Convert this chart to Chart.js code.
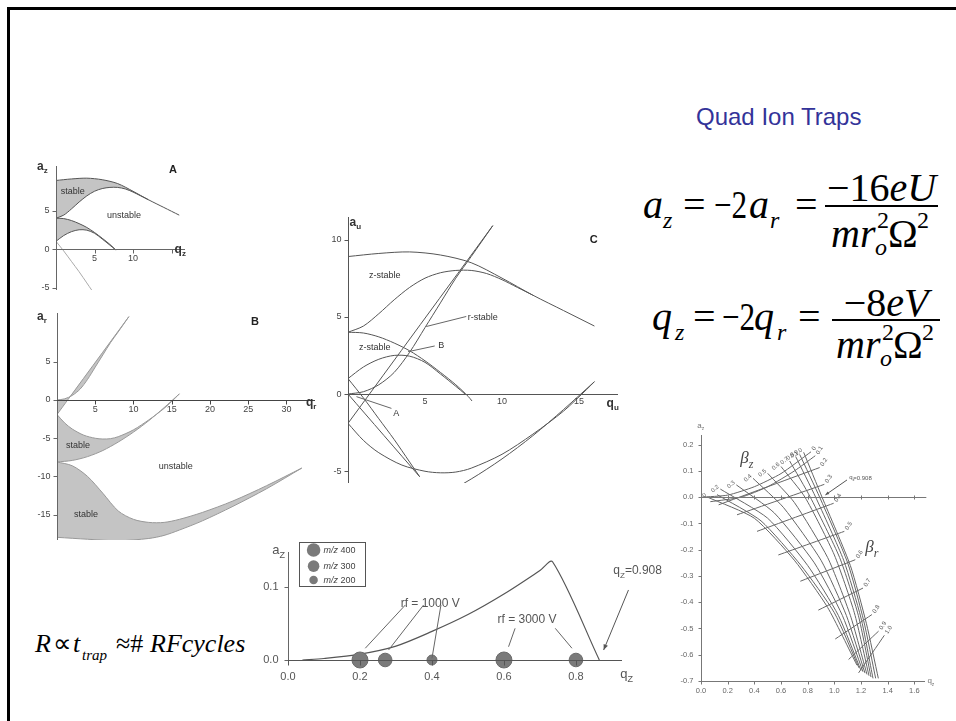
<!DOCTYPE html>
<html>
<head>
<meta charset="utf-8">
<title>Quad Ion Traps</title>
<script src="https://cdn.jsdelivr.net/npm/chart.js@4.4.1/dist/chart.umd.min.js"></script>
<style>
  html, body { margin: 0; padding: 0; background: #fff; }
  body { position: relative; width: 956px; height: 721px; overflow: hidden; font-family: "Liberation Sans", Arial, sans-serif; }
  #frame { position: absolute; left: 7px; top: 7px; width: 960px; height: 730px; border-left: 3px solid #000; border-top: 3px solid #000; }
  canvas { position: absolute; }
  .tx { position: absolute; white-space: nowrap; line-height: 1; color: #000; }
  .serif { font-family: "Liberation Serif", "Times New Roman", serif; }
  .it { font-style: italic; }
  .nar { transform: scaleX(0.78); transform-origin: 0 0; }
  .bar { position: absolute; height: 2px; background: #000; }
</style>
</head>
<body>
<div id="frame"></div>

<div class="tx" style="left:696px;top:105px;font-size:24px;color:#333399;">Quad Ion Traps</div>

<!-- a_z = -2a_r = -16eU / m r_o^2 Omega^2 -->
<div class="tx serif it" style="left:643px;top:184.5px;font-size:40px;">a</div>
<div class="tx serif it" style="left:663px;top:208px;font-size:24px;">z</div>
<div class="tx serif" style="left:683px;top:184.5px;font-size:40px;">=</div>
<div class="tx serif nar" style="left:714px;top:184.5px;font-size:40px;">&minus;2</div>
<div class="tx serif it" style="left:749px;top:184.5px;font-size:40px;">a</div>
<div class="tx serif it" style="left:770px;top:208px;font-size:24px;">r</div>
<div class="tx serif" style="left:795px;top:184.5px;font-size:40px;">=</div>
<div class="tx serif" style="left:825px;top:167.5px;width:113px;text-align:center;font-size:40px;">&minus;16<i>eU</i></div>
<div class="bar" style="left:825px;top:205px;width:113px;"></div>
<div class="tx serif it" style="left:831px;top:213.5px;font-size:40px;">mr</div>
<div class="tx serif" style="left:877px;top:208px;font-size:24px;">2</div>
<div class="tx serif it" style="left:875px;top:235px;font-size:24px;">o</div>
<div class="tx serif" style="left:888px;top:213.5px;font-size:40px;">&Omega;</div>
<div class="tx serif" style="left:917px;top:208px;font-size:24px;">2</div>

<!-- q_z = -2q_r = -8eV / m r_o^2 Omega^2 -->
<div class="tx serif it" style="left:652px;top:296.5px;font-size:40px;">q</div>
<div class="tx serif it" style="left:675px;top:320px;font-size:24px;">z</div>
<div class="tx serif" style="left:693px;top:296.5px;font-size:40px;">=</div>
<div class="tx serif nar" style="left:722px;top:296.5px;font-size:40px;">&minus;2</div>
<div class="tx serif it" style="left:754px;top:296.5px;font-size:40px;">q</div>
<div class="tx serif it" style="left:777px;top:320px;font-size:24px;">r</div>
<div class="tx serif" style="left:798px;top:296.5px;font-size:40px;">=</div>
<div class="tx serif" style="left:832px;top:282.5px;width:108px;text-align:center;font-size:40px;">&minus;8<i>eV</i></div>
<div class="bar" style="left:832px;top:319px;width:108px;"></div>
<div class="tx serif it" style="left:836px;top:324.5px;font-size:40px;">mr</div>
<div class="tx serif" style="left:882px;top:320px;font-size:24px;">2</div>
<div class="tx serif it" style="left:880px;top:346px;font-size:24px;">o</div>
<div class="tx serif" style="left:893px;top:324.5px;font-size:40px;">&Omega;</div>
<div class="tx serif" style="left:922px;top:320px;font-size:24px;">2</div>

<!-- R ~ t_trap ~ # RF cycles -->
<div class="tx serif it" style="left:35px;top:631px;font-size:26px;">R</div>
<div class="tx serif" style="left:53px;top:631px;font-size:26px;">&prop;</div>
<div class="tx serif it" style="left:73px;top:631px;font-size:26px;">t</div>
<div class="tx serif it" style="left:82px;top:648px;font-size:15px;">trap</div>
<div class="tx serif" style="left:116px;top:631px;font-size:26px;">&asymp;#</div>
<div class="tx serif it" style="left:150px;top:631px;font-size:26px;">RFcycles</div>

<script>
// z-direction stability boundaries (a_z vs q_z), panels A and C
const zTopQ = [0, 2, 4, 6, 8, 10, 12, 14, 16];
const zTopA = [8.9, 9.1, 9.2, 9.0, 8.5, 7.5, 6.4, 5.4, 4.4];
const zMidQ = [0, 1, 2, 3, 4, 5, 6, 7, 8, 9, 10, 11, 12];
const zMidA = [4.0, 4.4, 5.2, 6.1, 6.9, 7.5, 7.85, 8.0, 8.0, 7.8, 7.4, 6.9, 6.4];
const zLowTopQ = [0, 1, 2, 3, 4, 5, 6, 7, 7.8, 8.05];
const zLowTopA = [4.0, 3.95, 3.7, 3.3, 2.8, 2.15, 1.4, 0.6, -0.15, -0.45];
const zLowBotQ = [0, 1, 2, 3, 4, 5, 6, 7, 7.6];
const zLowBotA = [1.0, 1.75, 2.25, 2.5, 2.45, 2.05, 1.3, 0.5, 0];
const zEdgeQ = [0, 1, 2, 3, 4, 4.65];
const zEdgeA = [1.0, -0.25, -1.6, -2.95, -4.4, -5.35];
const zEdge2Q = [0, 4.65];
const zEdge2A = [0, -5.35];

// r-direction stability boundaries (a_r vs q_r), panels B and C
const r1LeftQ = [0, 9.4];
const r1LeftA = [-1.9, 10.9];
const r1RightQ = [0, 1, 2, 3, 4, 5, 6, 7, 8, 9.4];
const r1RightA = [0, 0.15, 0.6, 1.4, 2.7, 4.3, 5.9, 7.5, 8.9, 10.9];
const r2TopQ = [0, 1, 2, 3.5, 5, 6, 7, 8, 10, 12, 14, 15.5, 16];
const r2TopA = [-1.9, -3.0, -3.8, -4.6, -5.0, -5.1, -5.05, -4.8, -3.9, -2.6, -1.1, 0.3, 0.8];
const r2BotQ = [0, 2, 4, 6, 8, 10, 12, 14, 16];
const r2BotA = [-8.1, -7.9, -7.4, -6.6, -5.5, -4.2, -2.7, -1.0, 0.8];
const r3TopQ = [0, 2, 4, 6, 8, 10, 12, 14, 16, 19, 23, 27.4, 32];
const r3TopA = [-8.1, -8.6, -10.0, -12.2, -14.5, -15.6, -16.0, -16.0, -15.6, -14.7, -13.2, -11.2, -8.9];
const r3BotQ = [0, 4, 8, 12, 14, 16, 19, 23, 27.4, 32];
const r3BotA = [-17.95, -18.2, -18.4, -18.1, -17.7, -17.0, -15.8, -13.9, -11.6, -8.9];

// resonance scan panel
const scanQ = [0.04, 0.1, 0.2, 0.3, 0.4, 0.5, 0.6, 0.7, 0.735, 0.865];
const scanA = [0, 0.002, 0.008, 0.019, 0.039, 0.062, 0.09, 0.122, 0.134, 0];
const ionQ = [0.2, 0.27, 0.4, 0.6, 0.8];
const ionMz = [400, 300, 200, 400, 300];
const legendMz = [400, 300, 200];

// iso-beta lines of the first stability region
const betaLabels = ['0', '0.1', '0.2', '0.3', '0.4', '0.5', '0.6', '0.7', '0.8', '0.9', '1.0'];
const betaZq = [
  [0.05, 0.4, 0.7, 0.95, 1.17], [0.12, 0.45, 0.75, 1.0, 1.185], [0.145, 0.5, 0.8, 1.03, 1.2],
  [0.265, 0.55, 0.85, 1.06, 1.215], [0.39, 0.62, 0.9, 1.09, 1.23], [0.5, 0.7, 0.95, 1.12, 1.245],
  [0.6, 0.78, 1.0, 1.15, 1.26], [0.665, 0.82, 1.04, 1.18, 1.275], [0.71, 0.86, 1.07, 1.2, 1.29],
  [0.74, 0.89, 1.1, 1.22, 1.31], [0.77, 0.908, 1.12, 1.24, 1.33]
];
const betaZa = [
  [0, -0.08, -0.24, -0.42, -0.64], [0.01, -0.09, -0.26, -0.44, -0.65], [0.031, -0.08, -0.26, -0.45, -0.66],
  [0.047, -0.06, -0.25, -0.45, -0.665], [0.072, -0.04, -0.24, -0.45, -0.67], [0.091, -0.02, -0.23, -0.45, -0.675],
  [0.117, 0, -0.22, -0.44, -0.68], [0.138, 0, -0.23, -0.45, -0.685], [0.155, 0, -0.24, -0.46, -0.69],
  [0.163, 0, -0.25, -0.47, -0.69], [0.171, 0, -0.26, -0.48, -0.69]
];
const betaRq = [
  [0, 0.2, 0.4, 0.6, 0.825], [0.07, 0.3, 0.5, 0.7, 0.857], [0.132, 0.89], [0.27, 0.925], [0.42, 0.995],
  [0.58, 1.075], [0.745, 1.157], [0.88, 1.215], [1.007, 1.282], [1.107, 1.332], [1.182, 1.375]
];
const betaRa = [
  [0, 0.008, 0.04, 0.09, 0.173], [-0.017, 0.0, 0.04, 0.1, 0.158], [-0.029, 0.113], [-0.067, 0.049], [-0.13, -0.023],
  [-0.22, -0.13], [-0.32, -0.238], [-0.43, -0.346], [-0.54, -0.447], [-0.618, -0.51], [-0.669, -0.526]
];

const SANS = '"Liberation Sans", Arial, sans-serif';
const SERIF = '"Liberation Serif", "Times New Roman", serif';
const CURVE = '#555';
const SHADE = '#c4c4c4';

function pts(qs, as) { return qs.map((q, i) => ({ x: q, y: as[i] })); }
function loop(q1, a1, q2, a2) {
  return pts(q1.concat(q2.slice().reverse()), a1.concat(a2.slice().reverse()));
}
function curve(q, a, color, width, tension) {
  return { data: pts(q, a), showLine: true, fill: false, borderColor: color || CURVE,
           borderWidth: width || 1, pointRadius: 0, tension: tension === undefined ? 0.3 : tension };
}
function area(q1, a1, q2, a2) {
  return { data: loop(q1, a1, q2, a2), showLine: true, fill: 'shape', backgroundColor: SHADE,
           borderColor: 'rgba(0,0,0,0)', borderWidth: 0, pointRadius: 0, tension: 0.3 };
}

function P(c, q, a) { return [c.scales.x.getPixelForValue(q), c.scales.y.getPixelForValue(a)]; }
function crisp(v) { return Math.round(v) + 0.5; }

function hAxis(ctx, c, o) {
  const y = crisp(P(c, 0, o.at)[1]);
  ctx.strokeStyle = o.color; ctx.lineWidth = 1;
  ctx.beginPath();
  ctx.moveTo(P(c, o.from, 0)[0], y); ctx.lineTo(P(c, o.to, 0)[0], y);
  o.ticks.forEach(v => { const x = crisp(P(c, v, 0)[0]); ctx.moveTo(x, y - (o.up || 0)); ctx.lineTo(x, y + (o.down || 0)); });
  ctx.stroke();
  if (!o.labels) return;
  ctx.fillStyle = o.text || o.color; ctx.font = o.font; ctx.textAlign = 'center'; ctx.textBaseline = 'top';
  o.ticks.forEach((v, i) => { if (o.labels[i]) ctx.fillText(o.labels[i], P(c, v, 0)[0], y + o.gap); });
}
function vAxis(ctx, c, o) {
  const x = crisp(P(c, o.at, 0)[0]);
  ctx.strokeStyle = o.color; ctx.lineWidth = 1;
  ctx.beginPath();
  ctx.moveTo(x, P(c, 0, o.from)[1]); ctx.lineTo(x, P(c, 0, o.to)[1]);
  o.ticks.forEach(v => { const y = crisp(P(c, 0, v)[1]); ctx.moveTo(x - o.len, y); ctx.lineTo(x, y); });
  ctx.stroke();
  ctx.fillStyle = o.text || o.color; ctx.font = o.font; ctx.textAlign = 'right'; ctx.textBaseline = 'middle';
  o.ticks.forEach((v, i) => ctx.fillText(o.labels[i], x - o.gap, P(c, 0, v)[1]));
}
function say(ctx, c, s, q, a, font, color, align) {
  const [x, y] = P(c, q, a);
  ctx.font = font; ctx.fillStyle = color || '#333';
  ctx.textAlign = align || 'center'; ctx.textBaseline = 'middle';
  ctx.fillText(s, x, y);
}
// letter with a subscript, anchored at its baseline-left
function subLabel(ctx, c, main, sub, q, a, size, opt) {
  opt = opt || {};
  const fam = opt.family || SANS, st = opt.style || '', col = opt.color || '#333';
  const [x, y] = P(c, q, a);
  ctx.fillStyle = col; ctx.textAlign = 'left'; ctx.textBaseline = 'alphabetic';
  ctx.font = `${st} ${size}px ${fam}`;
  ctx.fillText(main, x, y);
  const w = ctx.measureText(main).width;
  ctx.font = `${st} ${Math.round(size * 0.68)}px ${fam}`;
  ctx.fillText(sub, x + w + (opt.kern || 0), y + size * 0.28);
  return x + w + ctx.measureText(sub).width;
}
function seg(ctx, c, q1, a1, q2, a2, color, arrow) {
  const [x1, y1] = P(c, q1, a1), [x2, y2] = P(c, q2, a2);
  ctx.strokeStyle = color; ctx.lineWidth = 1;
  ctx.beginPath(); ctx.moveTo(x1, y1); ctx.lineTo(x2, y2); ctx.stroke();
  if (arrow) {
    const ang = Math.atan2(y2 - y1, x2 - x1);
    ctx.fillStyle = color;
    ctx.beginPath();
    ctx.moveTo(x2, y2);
    ctx.lineTo(x2 - arrow * Math.cos(ang - 0.4), y2 - arrow * Math.sin(ang - 0.4));
    ctx.lineTo(x2 - arrow * Math.cos(ang + 0.4), y2 - arrow * Math.sin(ang + 0.4));
    ctx.closePath(); ctx.fill();
  }
}

function panel(box, pad, xr, yr, datasets, deco) {
  const cv = document.createElement('canvas');
  cv.width = box[2]; cv.height = box[3];
  cv.style.left = box[0] + 'px'; cv.style.top = box[1] + 'px';
  document.body.appendChild(cv);
  return new Chart(cv.getContext('2d'), {
    type: 'scatter',
    data: { datasets },
    options: {
      responsive: false, animation: false, events: [],
      layout: { padding: pad },
      plugins: { legend: { display: false }, tooltip: { enabled: false }, filler: { drawTime: 'beforeDatasetsDraw' } },
      scales: {
        x: { type: 'linear', display: false, min: xr[0], max: xr[1] },
        y: { type: 'linear', display: false, min: yr[0], max: yr[1] }
      }
    },
    plugins: [{ id: 'deco', afterDatasetsDraw(chart) { const ctx = chart.ctx; ctx.save(); deco(ctx, chart); ctx.restore(); } }]
  });
}

const tick9 = `9px ${SANS}`;

// Panel A: z stability regions
panel([14, 150, 186, 150], { left: 42, right: 15, top: 16, bottom: 10 }, [0, 16.75], [-5.32, 10.78], [
  area(zTopQ.slice(0, 7), zTopA.slice(0, 7), zMidQ, zMidA),
  area(zLowTopQ.slice(0, 8), zLowTopA.slice(0, 8), zLowBotQ, zLowBotA),
  curve(zTopQ, zTopA), curve(zMidQ, zMidA),
  curve(zLowTopQ.slice(0, 9), zLowTopA.slice(0, 9)), curve(zLowBotQ, zLowBotA),
  curve(zEdgeQ, zEdgeA, '#aaa')
], (ctx, c) => {
  vAxis(ctx, c, { at: 0, from: -5.32, to: 10.78, ticks: [-5, 0, 5], labels: ['-5', '0', '5'], len: 4, gap: 7, font: tick9, color: '#666', text: '#444' });
  hAxis(ctx, c, { at: 0, from: 0, to: 16.75, ticks: [5, 10, 15], labels: ['5', '10', ''], down: 4, gap: 5, font: tick9, color: '#666', text: '#444' });
  subLabel(ctx, c, 'a', 'z', -2.47, 10.26, 12, { style: 'bold' });
  subLabel(ctx, c, 'q', 'z', 15.4, -0.52, 12, { style: 'bold' });
  say(ctx, c, 'stable', 2.17, 7.44, `9px ${SANS}`);
  say(ctx, c, 'unstable', 8.83, 4.32, `9px ${SANS}`);
  say(ctx, c, 'A', 15.19, 10.26, `bold 11px ${SANS}`, '#222');
});

// Panel B: r stability regions
panel([14, 300, 320, 250], { left: 43, right: 19, top: 13, bottom: 10 }, [0, 33.73], [-18.3, 11.37], [
  area(r1LeftQ, r1LeftA, r1RightQ, r1RightA),
  area(r2TopQ, r2TopA, r2BotQ, r2BotA),
  area(r3TopQ, r3TopA, r3BotQ, r3BotA),
  curve(r1LeftQ, r1LeftA, '#999'), curve(r1RightQ, r1RightA, '#999'),
  curve(r2TopQ, r2TopA, '#999'), curve(r2BotQ, r2BotA, '#999'),
  curve(r3TopQ, r3TopA, '#999'), curve(r3BotQ, r3BotA, '#999')
], (ctx, c) => {
  vAxis(ctx, c, { at: 0, from: -18.3, to: 11.37, ticks: [-15, -10, -5, 0, 5], labels: ['-15', '-10', '-5', '0', '5'], len: 4, gap: 7, font: tick9, color: '#666', text: '#444' });
  hAxis(ctx, c, { at: 0, from: 0, to: 33.73, ticks: [5, 10, 15, 20, 25, 30], labels: ['5', '10', '15', '20', '25', '30'], down: 4, gap: 5, font: tick9, color: '#444', text: '#444' });
  subLabel(ctx, c, 'a', 'r', -2.61, 10.46, 12, { style: 'bold' });
  subLabel(ctx, c, 'q', 'r', 32.55, -0.78, 12, { style: 'bold' });
  say(ctx, c, 'B', 25.88, 10.24, `bold 11px ${SANS}`, '#222');
  say(ctx, c, 'stable', 2.75, -5.97, `9px ${SANS}`);
  say(ctx, c, 'unstable', 15.52, -8.72, `9px ${SANS}`);
  say(ctx, c, 'stable', 3.79, -15.03, `9px ${SANS}`);
});

// Panel C: both directions overlaid
panel([320, 200, 310, 295], { left: 28, right: 12, top: 17, bottom: 12 }, [0, 17.53], [-5.76, 11.46], [
  curve(zTopQ, zTopA), curve(zMidQ, zMidA), curve(zLowTopQ, zLowTopA), curve(zLowBotQ, zLowBotA),
  curve(zEdgeQ, zEdgeA), curve(zEdge2Q, zEdge2A),
  curve(r1LeftQ, r1LeftA), curve(r1RightQ, r1RightA), curve(r2TopQ, r2TopA), curve(r2BotQ, r2BotA)
], (ctx, c) => {
  vAxis(ctx, c, { at: 0, from: -5.76, to: 11.46, ticks: [-5, 0, 5, 10], labels: ['-5', '0', '5', '10'], len: 4, gap: 7, font: tick9, color: '#555', text: '#444' });
  hAxis(ctx, c, { at: 0, from: 0, to: 17.53, ticks: [5, 10, 15], labels: ['5', '10', '15'], down: 0, gap: 3, font: tick9, color: '#555', text: '#444' });
  subLabel(ctx, c, 'a', 'u', 0.1, 10.87, 12, { style: 'bold' });
  subLabel(ctx, c, 'q', 'u', 16.79, -0.84, 12, { style: 'bold' });
  say(ctx, c, 'C', 15.95, 9.97, `bold 11px ${SANS}`, '#222');
  say(ctx, c, 'z-stable', 2.38, 7.64, `9px ${SANS}`);
  say(ctx, c, 'r-stable', 8.75, 4.98, `9px ${SANS}`);
  say(ctx, c, 'z-stable', 1.73, 3.02, `9px ${SANS}`);
  say(ctx, c, 'B', 6.06, 3.17, `9px ${SANS}`);
  say(ctx, c, 'A', 3.14, -1.25, `9px ${SANS}`);
  seg(ctx, c, 7.68, 5.02, 5.08, 4.37, '#666');
  seg(ctx, c, 5.63, 3.11, 3.9, 2.74, '#666');
  seg(ctx, c, 2.82, -0.93, 0.55, -0.17, '#666');
});

// Bottom panel: ions on the q_z axis
const ionRadius = { 400: 8, 300: 6.8, 200: 5 };
panel([250, 535, 420, 160], { left: 38, right: 48, top: 17, bottom: 32 }, [0, 0.928], [-0.0041, 0.1473], [
  { data: pts(ionQ, ionQ.map(() => 0)), pointRadius: ionMz.map(m => ionRadius[m]), clip: false,
    pointBackgroundColor: '#7a7a7a', pointBorderColor: '#6a6a6a', pointBorderWidth: 1, showLine: false },
  curve(scanQ, scanA, '#555', 1.2)
], (ctx, c) => {
  vAxis(ctx, c, { at: 0, from: -0.0041, to: 0.1473, ticks: [0, 0.1], labels: ['0.0', '0.1'], len: 4, gap: 10, font: `11px ${SANS}`, color: '#666', text: '#555' });
  hAxis(ctx, c, { at: 0, from: 0, to: 0.928, ticks: [0, 0.2, 0.4, 0.6, 0.8], labels: ['0.0', '0.2', '0.4', '0.6', '0.8'], down: 5, gap: 11, font: `11px ${SANS}`, color: '#555', text: '#555' });
  subLabel(ctx, c, 'a', 'Z', -0.0436, 0.1446, 13, { color: '#555' });
  subLabel(ctx, c, 'q', 'Z', 0.923, -0.0246, 13, { color: '#555' });
  // legend box
  const [bx1, by1] = P(c, 0.0314, 0.161), [bx2, by2] = P(c, 0.215, 0.101);
  ctx.strokeStyle = '#555'; ctx.lineWidth = 1;
  ctx.strokeRect(crisp(bx1), crisp(by1), Math.round(bx2 - bx1), Math.round(by2 - by1));
  const rowA = [0.150, 0.128, 0.109];
  legendMz.forEach((m, i) => {
    const [cx, cy] = P(c, 0.0711, rowA[i]);
    ctx.fillStyle = '#7a7a7a';
    ctx.beginPath(); ctx.arc(cx, cy, ionRadius[m] * 0.85, 0, Math.PI * 2); ctx.fill();
    const [tx] = P(c, 0.0989, 0);
    ctx.fillStyle = '#444'; ctx.textAlign = 'left'; ctx.textBaseline = 'middle';
    ctx.font = `italic 9px ${SANS}`; ctx.fillText('m/z', tx, cy);
    const w = ctx.measureText('m/z ').width;
    ctx.font = `9px ${SANS}`; ctx.fillText(String(m), tx + w, cy);
  });
  say(ctx, c, 'rf = 1000 V', 0.395, 0.0774, `12px ${SANS}`, '#555');
  say(ctx, c, 'rf = 3000 V', 0.664, 0.0546, `12px ${SANS}`, '#555');
  const xe = subLabel(ctx, c, 'q', 'Z', 0.904, 0.117, 12, { color: '#555' });
  ctx.font = `12px ${SANS}`; ctx.textAlign = 'left'; ctx.textBaseline = 'middle';
  ctx.fillText('=0.908', xe, P(c, 0, 0.1214)[1]);
  seg(ctx, c, 0.326, 0.075, 0.2147, 0.016, '#666');
  seg(ctx, c, 0.3767, 0.075, 0.2794, 0.0136, '#666');
  seg(ctx, c, 0.425, 0.075, 0.4, 0.0023, '#666');
  seg(ctx, c, 0.631, 0.0432, 0.6128, 0.0181, '#666');
  seg(ctx, c, 0.7425, 0.0432, 0.789, 0.016, '#666');
  seg(ctx, c, 0.946, 0.0955, 0.877, 0.0136, '#555', 6);
});

// Bottom right: iso-beta lines
const isoSets = [];
betaZq.forEach((q, i) => isoSets.push(curve(q, betaZa[i], '#666', 1, 0.2)));
betaRq.forEach((q, i) => isoSets.push(curve(q, betaRa[i], '#666', 1, 0.2)));
panel([655, 415, 301, 295], { left: 46, right: 31, top: 20, bottom: 29 }, [0, 1.68], [-0.7, 0.237], isoSets, (ctx, c) => {
  const t7 = `7.5px ${SANS}`;
  vAxis(ctx, c, { at: 0, from: -0.7, to: 0.237, ticks: [0.2, 0.1, 0, -0.1, -0.2, -0.3, -0.4, -0.5, -0.6, -0.7],
    labels: ['0.2', '0.1', '0.0', '-0.1', '-0.2', '-0.3', '-0.4', '-0.5', '-0.6', '-0.7'], len: 3, gap: 8, font: t7, color: '#777', text: '#666' });
  hAxis(ctx, c, { at: -0.7, from: 0, to: 1.68, ticks: [0, 0.2, 0.4, 0.6, 0.8, 1.0, 1.2, 1.4, 1.6],
    labels: ['0.0', '0.2', '0.4', '0.6', '0.8', '1.0', '1.2', '1.4', '1.6'], down: 3, gap: 6, font: t7, color: '#777', text: '#666' });
  hAxis(ctx, c, { at: 0, from: 0, to: 1.69, ticks: [0.2, 0.4, 0.6, 0.8, 1.0, 1.2, 1.4, 1.6], up: 2, down: 2, color: '#777' });
  subLabel(ctx, c, 'a', 'z', -0.028, 0.2635, 8, { color: '#777' });
  subLabel(ctx, c, 'q', 'z', 1.698, -0.709, 8, { color: '#777' });
  subLabel(ctx, c, '\u03B2', 'z', 0.295, 0.130, 17, { family: SERIF, style: 'italic', color: '#444' });
  subLabel(ctx, c, '\u03B2', 'r', 1.232, -0.208, 17, { family: SERIF, style: 'italic', color: '#444' });
  subLabel(ctx, c, 'q', 'z', 1.112, 0.0696, 6, { color: '#555' });
  say(ctx, c, '=0.908', 1.142, 0.072, `6px ${SANS}`, '#555', 'left');
  seg(ctx, c, 1.095, 0.0658, 0.933, 0.0087, '#555', 4);
  // iso-beta labels, rotated along the lines
  ctx.font = `6px ${SANS}`; ctx.fillStyle = '#555'; ctx.textBaseline = 'middle';
  betaLabels.forEach((s, i) => {
    if (i !== 1) {
      const [x, y] = P(c, betaZq[i][0], betaZa[i][0]);
      ctx.save(); ctx.translate(x - 2, y - 3); ctx.rotate(-0.7); ctx.textAlign = 'right'; ctx.fillText(s, 0, 0); ctx.restore();
    }
    const n = betaRq[i].length - 1;
    const [x2, y2] = P(c, betaRq[i][n], betaRa[i][n]);
    ctx.save(); ctx.translate(x2 + 2, y2 - 2); ctx.rotate(-1.0); ctx.textAlign = 'left'; ctx.fillText(s, 0, 0); ctx.restore();
  });
});
</script>
</body>
</html>
